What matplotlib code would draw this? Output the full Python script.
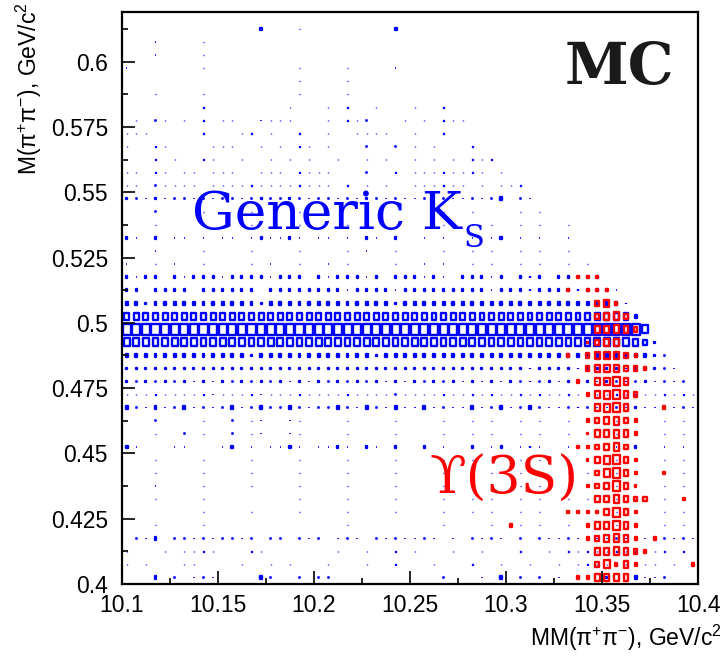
import matplotlib

matplotlib.use("Agg")

import matplotlib.pyplot as plt
from matplotlib.collections import PatchCollection
from matplotlib.patches import Rectangle
from matplotlib.ticker import FuncFormatter, MultipleLocator

plt.rcParams["font.family"] = ["Liberation Sans", "DejaVu Sans"]
plt.rcParams["mathtext.fontset"] = "custom"
plt.rcParams["mathtext.rm"] = "Liberation Sans"
plt.rcParams["mathtext.default"] = "regular"

# Binning of the 2D histograms, GeV/c^2
x_lo, x_hi, x_step = 10.1, 10.4, 0.005
y_lo, y_hi, y_step = 0.4, 0.619, 0.005

# Box size codes per bin ('.' = empty bin).
# One string per M(pi+pi-) bin, top row (0.615-0.62) first, 60 MM bins per row.
generic_ks = [
    "1......... 1......... 1.1....1.. .......... .......... ..........",
    "11....11.. ....4.1.1. ........4. .......... .......... ..........",
    "...2.1..11 11..21.1.1 .1....1... 1......... .......... ..........",
    "...211..1. ..1...11.1 .........1 .......... .......... ..........",
    "2.......11 .1..2...1. .1.11...2. .......... .......... ..........",
    "....11.1.. 1.1...1.1. 11.1...1.. ..1....... .......... ..........",
    "11.1111.11 .1...1.111 .1.1.1...1 .1........ .......... ..........",
    "........1. .......1.. .1.1..1... 1..1...... .......... ..........",
    ".1.21.1.1. 11..2111.. .1.112...1 .1.111.... .......... ..........",
    "111.....1. ..11.1..1. .1..1111.. 1..1...... .......... ..........",
    "1..11....1 11..1.1.11 .1...2..2. 1.1...1... .......... ..........",
    "...1.1..11 ..1..1.1.1 ..1..1.1.. 1.1.1.111. .......... ..........",
    "11.11.11.1 11..111.11 11...2..1. 11111111.1 .......... ..........",
    "11.21111.1 1111111111 11.1.1.1.. 111111.1.1 11........ ..........",
    "3223222222 2222322322 2222232222 2222222224 .22....... ..........",
    "111211.111 1.11111.11 111.1111.1 1111111..1 11.11..... ..........",
    "1.11.11111 11.111.111 1.111111.1 11.1111111 11111.11.. ..........",
    "3223222222 2222322322 2222232232 2222222224 2222222... ..........",
    "1112111111 1111211211 1111121111 1111111112 11111111.. ..........",
    "2121121211 1121121211 1211211211 1212111211 111111111. ..........",
    "3233232333 2333323332 3233323233 3232233323 2333233333 2.........",
    "3323333233 3333233333 3332333323 3333333323 3333333333 32........",
    "4434444444 4444344444 4444444434 4444444444 4444444444 443.......",
    "6666666666 6666666666 6666666666 6666666666 6666666666 6664......",
    "9999999999 9999999999 9999999999 9999999999 9999999999 99997.....",
    "7777777777 7777777777 7777777777 7777777777 7777777777 777653....",
    "4444444444 4443444444 4444443444 4444444444 4444444444 4444432...",
    "3333333333 3333333333 3333333333 3333333333 3333333333 33333322..",
    "3232323232 3232323232 3232323232 3232323232 3232323232 323232222.",
    "1111111112 1111211111 1111111121 1111111111 1111111111 1111111111",
    "4224224222 2422422422 2242242242 2422224224 2242222322 2223222222",
    "1112111111 1211211211 1111111111 1111111111 1111111111 1111111111",
    "1111112111 1211211211 11.1111111 1111111111 1111.11111 1111111111",
    "422.2222.2 2422.22422 2232232232 2322223223 2232222222 2223222222",
    "1..1111111 111111111. 1111111111 1111111111 1111111111 1111111111",
    "1111111111 1111111111 1111111111 1111111111 1111111111 1111111111",
    "1112111111 1111211111 1111111111 1111111111 1111111111 1111111111",
    "11.11.1111 111.111111 1111111111 1111.11111 1111111111 1111111111",
    "111.1.1111 1111111111 1111111111 1111111111 1111111111 1111111111",
    ".111.1111. ..1...11.1 1.11.111.1 11.111.111 1111111111 1111111111",
    ".224.22222 2222.22.22 2.222.2222 222.2.2222 .2.2222222 2222222222",
    "1...1.1111 ...11..... ..1..1..1. 1...1..1.. .1..1.1111 1111111.1.",
    "1.1...11.. ..1..1.1.. .1...1..1. ..1...1..1 ..1..1.111 111111.1..",
    "...4.2.222 ....42..2. 22........ ...2...2.4 .2.2.2.... 3..4222...",
]

# Upsilon(3S) signal MC, MM bins 40..59 only, top row (0.515-0.52) first
ups_first_bin = 40
upsilon_3s = [
    ".......444 ..........",
    "......4.44 4.........",
    ".........5 64........",
    ".........5 675.......",
    ".........6 6765......",
    "........35 66........",
    "......4.56 7754......",
    "........56 77554.....",
    ".......4.6 786.......",
    "........46 7865......",
    ".........6 786...4...",
    "........45 6754......",
    "........36 6764......",
    ".......445 675.......",
    "........36 7864......",
    ".........5 7864..4...",
    "........45 6863......",
    ".........6 67655...4.",
    "......4444 6864......",
    "4.......46 6864......",
    "........45 6764.4....",
    ".........6 67654.....",
    ".........5 7464.....4",
    ".......446 666.......",
]

# fraction of the bin covered by the box, and outline width, for each code
box_size = {"1": 0.03, "2": 0.05, "3": 0.1, "4": 0.2, "5": 0.36,
            "6": 0.51, "7": 0.6, "8": 0.7, "9": 0.84}
box_line = {"1": 1.0, "2": 1.2}


def box_collection(rows, first_bin, color):
    """Build ROOT-style 'box' cells for one histogram."""
    patches, widths = [], []
    n_rows = len(rows)
    for k, row in enumerate(rows):
        cells = row.replace(" ", "")
        yc = y_lo + (n_rows - 1 - k + 0.5) * y_step
        for i, code in enumerate(cells):
            if code == ".":
                continue
            frac = box_size[code]
            xc = x_lo + (first_bin + i + 0.5) * x_step
            w, h = frac * x_step, frac * y_step
            patches.append(Rectangle((xc - w / 2, yc - h / 2), w, h))
            widths.append(box_line.get(code, 1.7))
    return PatchCollection(patches, facecolor="none", edgecolor=color,
                           linewidths=widths)


fig = plt.figure(figsize=(7.25, 6.56), dpi=100)
ax = fig.add_axes([0.1681, 0.1098, 0.7947, 0.8719])

ax.add_collection(box_collection(generic_ks, 0, "#0000ff"))
ax.add_collection(box_collection(upsilon_3s, ups_first_bin, "#ff0000"))

ax.set_xlim(x_lo, x_hi)
ax.set_ylim(y_lo, y_hi)

ax.xaxis.set_major_locator(MultipleLocator(0.05))
ax.xaxis.set_minor_locator(MultipleLocator(0.025))
ax.yaxis.set_major_locator(MultipleLocator(0.025))
ax.yaxis.set_minor_locator(MultipleLocator(0.0125))
fmt = FuncFormatter(lambda v, pos: f"{v:g}")
ax.xaxis.set_major_formatter(fmt)
ax.yaxis.set_major_formatter(fmt)

ax.tick_params(which="both", direction="in", top=False, right=False,
               width=1.2, labelsize=16.5)
ax.tick_params(which="major", length=9.5)
ax.tick_params(which="minor", length=4.5)
ax.tick_params(axis="y", pad=10)
ax.tick_params(axis="x", pad=7)
for spine in ax.spines.values():
    spine.set_linewidth(1.6)

# axis titles, ROOT style (aligned to the axis ends)
fig.text(29 / 725, 1 - 2 / 656, "M(π$^{+}$π$^{-}$), GeV/c$^{2}$",
         rotation=90, ha="center", va="top", fontsize=16.5)
fig.text(722 / 725, 1 - 638 / 656, "MM(π$^{+}$π$^{-}$), GeV/c$^{2}$",
         ha="right", va="center", fontsize=16.5)

# annotations
ax.text(10.1365, 0.5361, "Generic K", color="#0000ff", fontsize=38.5,
        family="DejaVu Serif", va="baseline")
ax.text(10.2781, 0.5292, "S", color="#0000ff", fontsize=22,
        family="DejaVu Serif", va="baseline")
ax.text(10.260, 0.4345, "ϒ(3S)", color="#ff0000", fontsize=38.5,
        family="DejaVu Serif", va="baseline")
ax.text(10.3877, 0.5916, "MC", color="#1a1a1a", fontsize=41.5,
        family="DejaVu Serif", weight="bold", ha="right", va="baseline")

fig.savefig("out.png", dpi=100)
